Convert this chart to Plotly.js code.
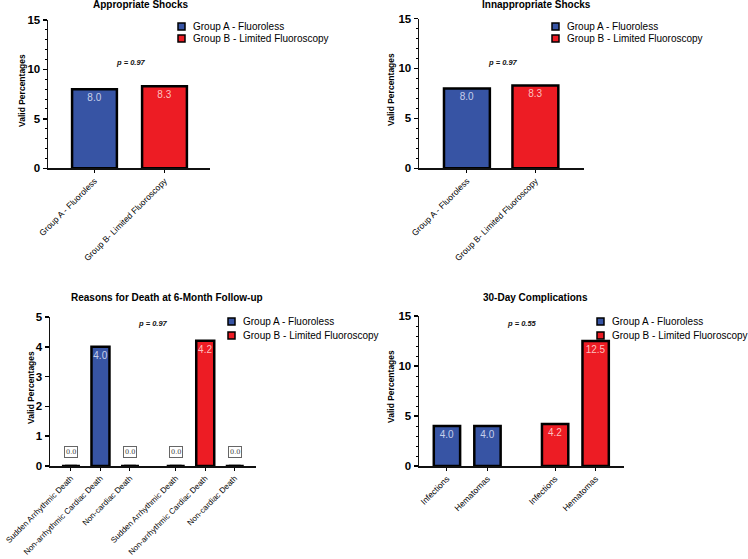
<!DOCTYPE html>
<html><head><meta charset="utf-8">
<script src="https://cdn.plot.ly/plotly-3.0.1.min.js"></script>
<style>html,body{margin:0;padding:0;background:#fff}</style>
</head><body><div id="chart" style="width:748px;height:559px"></div>
<script>
// ---- data ----
const groupNames = ["Group A - Fluoroless", "Group B - Limited Fluoroscopy"];
const shockCategories = ["Group A - Fluoroless", "Group B- Limited Fluoroscopy"];
const appropriateShocks = [8.0, 8.3];
const inappropriateShocks = [8.0, 8.3];
const deathCategories = ["Sudden Arrhythmic Death", "Non-arrhythmic Cardiac Death", "Non-cardiac Death"];
const deathGroupA = [0.0, 4.0, 0.0];
const deathGroupB = [0.0, 4.2, 0.0];
const complicationCategories = ["Infections", "Hematomas"];
const complicationsGroupA = [4.0, 4.0];
const complicationsGroupB = [4.2, 12.5];
const panelTitles = ["Appropriate Shocks", "Innappropriate Shocks", "Reasons for Death at 6-Month Follow-up", "30-Day Complications"];
const pValues = ["0.97", "0.97", "0.97", "0.55"];
const yTitle = "Valid Percentages";

// ---- styling ----
const W = 748, H = 559;
const FONT = "Liberation Sans, Arial, Helvetica, sans-serif";
const BLUE = "#3754A4", RED = "#ED1C24";
const colors = [BLUE, RED];
const px = v => v / W, py = v => 1 - v / H;

function xax(l, r, range, tickvals, ticktext, anchor, fs) {
  return {domain: [px(l), px(r)], range, tickmode: 'array', tickvals, ticktext,
    tickangle: -45, ticks: 'outside', ticklen: 3, tickwidth: 1, tickcolor: '#000',
    showline: true, linecolor: '#111', linewidth: 1.5, showgrid: false, zeroline: false,
    tickfont: {size: fs, color: '#000', family: FONT}, anchor, fixedrange: true};
}
function yax(top, bottom, max, dtick, minor, anchor) {
  const a = {domain: [py(bottom), py(top)], range: [0, max], tick0: 0, dtick,
    ticks: 'outside', ticklen: 4, tickwidth: 1.5, tickcolor: '#000',
    showline: true, linecolor: '#111', linewidth: 1.5, showgrid: false, zeroline: false,
    tickfont: {size: 11.5, weight: 'bold', color: '#000', family: FONT},
    anchor, fixedrange: true};
  if (minor) a.minor = {dtick: minor, ticks: 'outside', ticklen: 2, tickwidth: 1, tickcolor: '#000', showgrid: false};
  return a;
}
function barTrace(xs, ys, g, xa, ya, w) {
  return {type: 'bar', x: xs, y: ys, xaxis: xa, yaxis: ya, width: w, name: groupNames[g],
    showlegend: false, marker: {color: colors[g], line: {color: '#000', width: 2.5}},
    text: ys.map(v => v > 0 ? v.toFixed(1) : ''), textposition: 'inside', insidetextanchor: 'end',
    textangle: 0, constraintext: 'none', cliponaxis: false,
    textfont: {size: 10, family: FONT, color: g === 0 ? 'rgba(225,230,250,0.85)' : 'rgba(255,215,210,0.9)'},
    hoverinfo: 'x+y'};
}

// positions of categories along the axes
const shockPos = shockCategories.map((c, i) => i);
const deathPosA = deathCategories.map((c, i) => i);
const deathPosB = deathCategories.map((c, i) => i + 3.55);
const compPosA = complicationCategories.map((c, i) => i);
const compPosB = complicationCategories.map((c, i) => i + 2.67);

const data = [
  barTrace([shockPos[0]], [appropriateShocks[0]], 0, 'x', 'y', 0.64),
  barTrace([shockPos[1]], [appropriateShocks[1]], 1, 'x', 'y', 0.64),
  barTrace([shockPos[0]], [inappropriateShocks[0]], 0, 'x2', 'y2', 0.67),
  barTrace([shockPos[1]], [inappropriateShocks[1]], 1, 'x2', 'y2', 0.67),
  barTrace(deathPosA, deathGroupA, 0, 'x3', 'y3', 0.61),
  barTrace(deathPosB, deathGroupB, 1, 'x3', 'y3', 0.61),
  barTrace(compPosA, complicationsGroupA, 0, 'x4', 'y4', 0.65),
  barTrace(compPosB, complicationsGroupB, 1, 'x4', 'y4', 0.65)
];

const annotations = [];
const shapes = [];
// titles
const titlePos = [[140, 5], [536, 5], [167, 297], [535, 297]];
panelTitles.forEach((t, i) => annotations.push({xref: 'paper', yref: 'paper', x: px(titlePos[i][0]), y: py(titlePos[i][1]),
  xanchor: 'center', yanchor: 'middle', showarrow: false, text: '<b>' + t + '</b>', font: {size: 10, family: FONT, color: '#000'}}));
// y-axis titles
const yTitlePos = [[22, 91], [391, 90], [31, 388], [391, 387]];
yTitlePos.forEach(([x, y]) => annotations.push({xref: 'paper', yref: 'paper', x: px(x), y: py(y), xanchor: 'center', yanchor: 'middle',
  textangle: -90, showarrow: false, text: '<b>' + yTitle + '</b>', font: {size: 8.5, family: FONT, color: '#000'}}));
// p-values
const pPos = [[131, 63], [503, 62], [153, 323], [522, 323]];
pValues.forEach((p, i) => annotations.push({xref: 'paper', yref: 'paper', x: px(pPos[i][0]), y: py(pPos[i][1]),
  xanchor: 'center', yanchor: 'middle', showarrow: false, text: '<b><i>p = ' + p + '</i></b>', font: {size: 7.5, family: FONT, color: '#111'}}));
// legends
const legPos = [[178, 26.5, 12], [552, 26.5, 12], [228, 321.5, 14], [597, 321.5, 14]];
legPos.forEach(([lx, ly, dy]) => {
  groupNames.forEach((g, k) => {
    const cy = ly + k * dy;
    shapes.push({type: 'rect', xref: 'paper', yref: 'paper', x0: px(lx), x1: px(lx + 7), y0: py(cy + 3.5), y1: py(cy - 3.5),
      fillcolor: colors[k], line: {color: '#000', width: 1.5}});
    annotations.push({xref: 'paper', yref: 'paper', x: px(lx + 13), y: py(cy), xanchor: 'left', yanchor: 'middle',
      showarrow: false, text: g, font: {size: 10, family: FONT, color: '#000'}});
  });
});
// zero-value markers and boxed labels in the death panel
[[deathPosA, deathGroupA], [deathPosB, deathGroupB]].forEach(([xs, ys]) => {
  ys.forEach((v, i) => {
    if (v === 0) {
      shapes.push({type: 'line', xref: 'x3', yref: 'y3', x0: xs[i] - 0.2, x1: xs[i] + 0.2, y0: 0, y1: 0, line: {color: '#000', width: 2.5}});
      annotations.push({xref: 'x3', yref: 'y3', x: xs[i], y: 0.47, showarrow: false, text: v.toFixed(1),
        font: {size: 6.5, family: "DejaVu Serif, serif", color: '#333'}, bordercolor: '#666', borderwidth: 1, borderpad: 1, bgcolor: '#fff'});
    }
  });
});

const layout = {
  width: W, height: H, margin: {l: 0, r: 0, t: 0, b: 0}, paper_bgcolor: '#fff', plot_bgcolor: 'rgba(0,0,0,0)',
  font: {family: FONT, color: '#000'}, barmode: 'overlay', showlegend: false,
  xaxis: xax(48, 210, [-0.664, 1.65], shockPos, shockCategories, 'y', 8.5),
  yaxis: yax(20, 168.3, 15, 5, 1, 'x'),
  xaxis2: xax(419, 584, [-0.70, 1.71], shockPos, shockCategories, 'y2', 8.5),
  yaxis2: yax(18.5, 168.3, 15, 5, 1, 'x2'),
  xaxis3: xax(50, 256, [-0.71, 6.27], deathPosA.concat(deathPosB), deathCategories.concat(deathCategories), 'y3', 8),
  yaxis3: yax(317, 466, 5, 1, null, 'x3'),
  xaxis4: xax(419, 624, [-0.69, 4.37], compPosA.concat(compPosB), complicationCategories.concat(complicationCategories), 'y4', 8.5),
  yaxis4: yax(316, 466, 15, 5, 1, 'x4'),
  annotations, shapes
};
Plotly.newPlot('chart', data, layout, {displayModeBar: false, staticPlot: true});
</script>
</body></html>
